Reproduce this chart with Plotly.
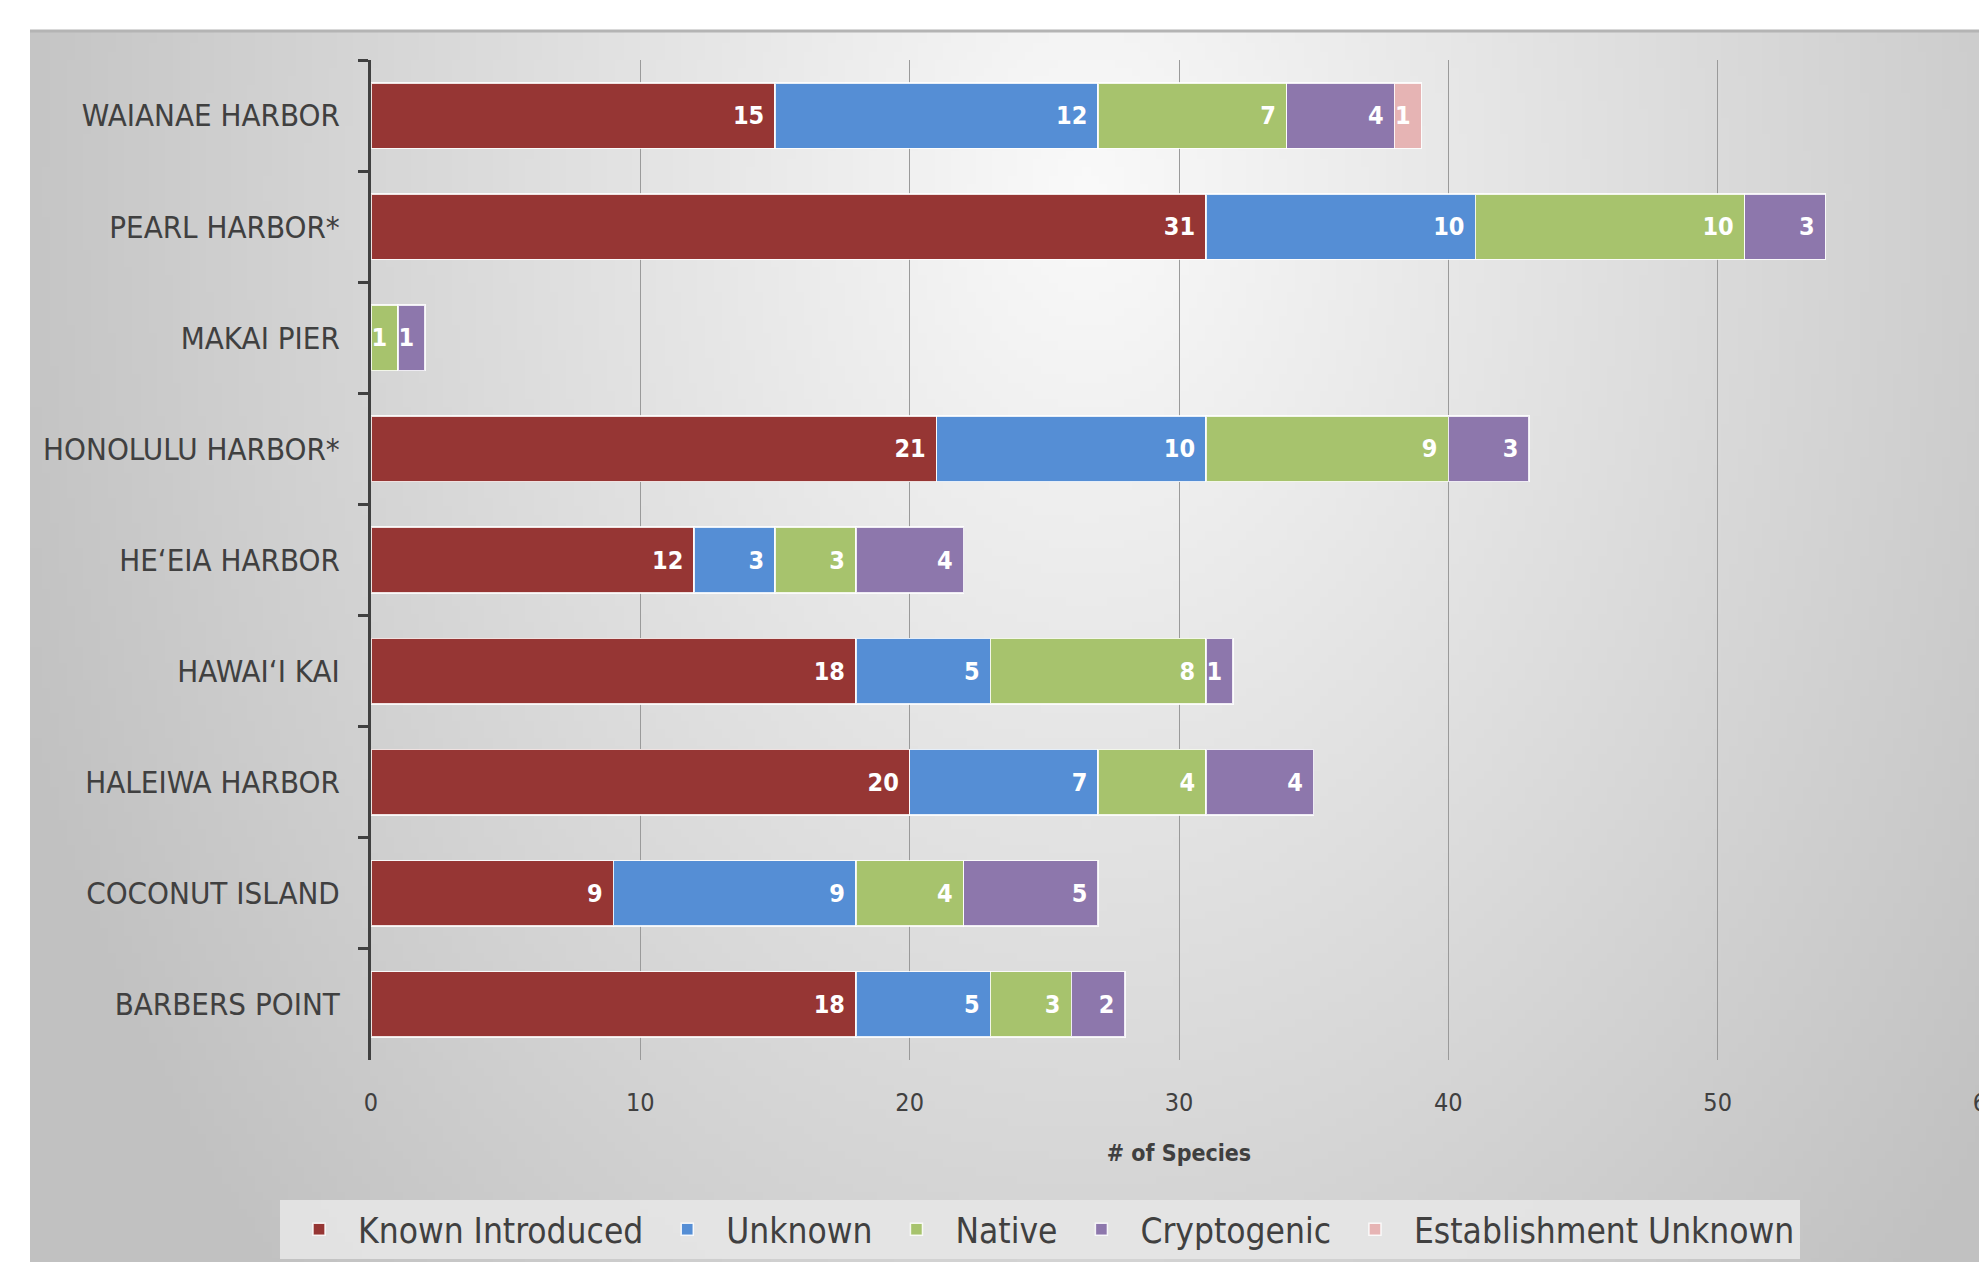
import base64, struct, zlib
import numpy as np
import plotly.graph_objects as go

# ---------------- data ----------------
sites = ["WAIANAE HARBOR", "PEARL HARBOR*", "MAKAI PIER", "HONOLULU HARBOR*",
         "HE‘EIA HARBOR", "HAWAI‘I KAI", "HALEIWA HARBOR", "COCONUT ISLAND",
         "BARBERS POINT"]
known_introduced = [15, 31, 0, 21, 12, 18, 20, 9, 18]
unknown = [12, 10, 0, 10, 3, 5, 7, 9, 5]
native = [7, 10, 1, 9, 3, 8, 4, 4, 3]
cryptogenic = [4, 3, 1, 3, 4, 1, 4, 5, 2]
establishment_unknown = [1, 0, 0, 0, 0, 0, 0, 0, 0]
x_ticks = [0, 10, 20, 30, 40, 50, 60]

series = [
    ("Known Introduced", known_introduced, "#963634"),
    ("Unknown", unknown, "#558ED5"),
    ("Native", native, "#A7C36D"),
    ("Cryptogenic", cryptogenic, "#8D77AC"),
    ("Establishment Unknown", establishment_unknown, "#E6B4B4"),
]

W, H = 1987, 1262
ML, MR, MT, MB = 363, 8, 52, 210
PW, PH = W - ML - MR, H - MT - MB

FONT = "DejaVu Sans Condensed, Roboto, sans-serif"


# ---------------- background gradient image ----------------
def make_png(arr):
    h, w = arr.shape
    raw = b"".join(b"\x00" + arr[i].tobytes() for i in range(h))

    def chunk(t, d):
        c = struct.pack(">I", len(d)) + t + d
        return c + struct.pack(">I", zlib.crc32(t + d) & 0xFFFFFFFF)

    return (b"\x89PNG\r\n\x1a\n"
            + chunk(b"IHDR", struct.pack(">IIBBBBB", w, h, 8, 0, 0, 0, 0))
            + chunk(b"IDAT", zlib.compress(raw, 9))
            + chunk(b"IEND", b""))


gw, gh = 240, 150
x0px, y0px = 22, 23
xs = np.linspace(x0px, W, gw)
ys = np.linspace(y0px, H, gh)
XX, YY = np.meshgrid(xs, ys)
d = np.sqrt(((XX - 1080) / 1050.0) ** 2 + ((YY - 180) / 1450.0) ** 2)
g = np.clip(250 - 52 * d, 193, 250).astype(np.uint8)
src = "data:image/png;base64," + base64.b64encode(make_png(g)).decode()

fig = go.Figure()

for name, vals, color in series:
    fig.add_trace(go.Bar(
        name=name,
        y=sites,
        x=[v if v else None for v in vals],
        orientation="h",
        marker=dict(color=color, line=dict(color="rgba(255,255,255,0.85)", width=1.5)),
        text=[str(v) if v else "" for v in vals],
        texttemplate="%{text}\u00a0",
        textposition="inside",
        insidetextanchor="end",
        constraintext="none",
        textfont=dict(color="white", size=25, family=FONT, weight="bold"),
    ))

fig.add_layout_image(dict(
    source=src, xref="paper", yref="paper",
    x=(x0px - ML) / PW, y=1 + (MT - y0px) / PH,
    sizex=(W - x0px) / PW, sizey=(H - y0px) / PH,
    xanchor="left", yanchor="top", sizing="stretch", layer="below",
))

fig.add_shape(type="line", xref="paper", yref="paper",
              x0=(x0px - ML) / PW, x1=(W - ML) / PW,
              y0=1 + (MT - y0px) / PH, y1=1 + (MT - y0px) / PH,
              line=dict(color="#b4b4b4", width=3), layer="below")

fig.update_layout(
    width=W, height=H,
    margin=dict(l=ML, r=MR, t=MT, b=MB, pad=0, autoexpand=False),
    barmode="stack",
    bargap=0.41,
    paper_bgcolor="white",
    plot_bgcolor="rgba(0,0,0,0)",
    font=dict(family=FONT, color="#404040"),
    showlegend=True,
    legend=dict(
        orientation="h", x=0.414, xanchor="center", y=-0.14, yanchor="top",
        bgcolor="rgba(230,230,230,0.9)",
        font=dict(size=35, family=FONT, color="#404040"),
        traceorder="normal", itemwidth=68, entrywidth=0,
    ),
    xaxis=dict(
        range=[0, 60], tickvals=x_ticks, ticktext=[str(t) for t in x_ticks],
        showgrid=True, gridcolor="#9a9a9a", gridwidth=1,
        zeroline=False, showline=False, ticks="", automargin=False,
        tickfont=dict(size=25, family=FONT, color="#404040"),
        ticklabelstandoff=25, ticklabeloverflow="allow",
        title=dict(text="<b># of Species</b>", font=dict(size=23, family=FONT, color="#404040"),
                   standoff=28),
    ),
    yaxis=dict(
        autorange="reversed", type="category", automargin=False,
        showline=True, linecolor="#404040", linewidth=3,
        ticks="outside", tickson="boundaries", ticklen=10, tickwidth=3, tickcolor="#404040",
        showgrid=False,
        tickfont=dict(size=31, family=FONT, color="#404040"),
        ticklabelstandoff=22,
    ),
)

fig.write_html("out.html")
